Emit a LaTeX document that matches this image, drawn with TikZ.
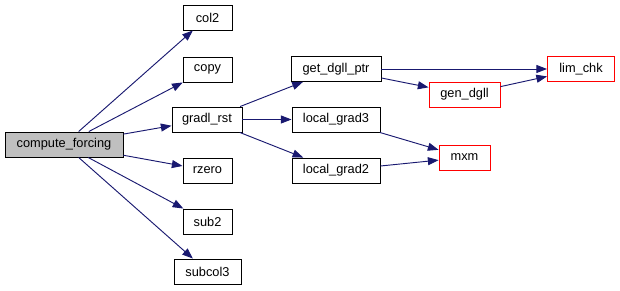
\documentclass[tikz,border=0pt]{standalone}
\usepackage{fontspec}
\setmainfont{Liberation Sans}
\usetikzlibrary{arrows.meta}
\definecolor{edgeblue}{HTML}{191970}
\definecolor{boxgray}{HTML}{BFBFBF}
\begin{document}
\begin{tikzpicture}[x=0.75pt, y=-0.75pt,
        every node/.style={font=\fontsize{9.6}{11}\selectfont},
        fn/.style={draw=black, line width=0.7pt, inner sep=0pt, minimum height=18.75pt},
        ext/.style={fn, draw=red},
        call/.style={draw=edgeblue, line width=0.7pt, -{Triangle[length=8pt, width=6pt]}}]
    \useasboundingbox (0,0) rectangle (620,291);
    % root of the graph
    \node[fn, fill=boxgray, minimum width=88.5pt] (cf) at (64,144.5) {compute\_forcing};
    % direct callees and the helpers below them
    \foreach \n/\t/\x/\y/\w in {col2/col2/207.5/17.5/49, copy/copy/207.5/69.5/49,
        gradl/gradl\_rst/207/119.5/70, rzero/rzero/207.5/170.5/49,
        sub2/sub2/207.5/221.5/49, subcol3/subcol3/207.5/271.5/67,
        getdgll/get\_dgll\_ptr/336/69/90, lgrad3/local\_grad3/336/119.5/88,
        lgrad2/local\_grad2/336/170.5/88}
        \node[fn, minimum width=\w*0.75pt] (\n) at (\x,\y) {\t};
    % routines drawn in red
    \foreach \n/\t/\x/\y/\w in {gendgll/gen\_dgll/464.5/94.5/71,
        mxm/mxm/464.5/157.5/51, limchk/lim\_chk/581/69/67}
        \node[ext, minimum width=\w*0.75pt] (\n) at (\x,\y) {\t};
    % calls
    \foreach \a/\b in {cf/col2, cf/copy, cf/gradl, cf/rzero, cf/sub2, cf/subcol3,
        gradl/getdgll, gradl/lgrad3, gradl/lgrad2, getdgll/limchk,
        getdgll/gendgll, gendgll/limchk, lgrad3/mxm, lgrad2/mxm}
        \draw[call] (\a) -- (\b);
\end{tikzpicture}
\end{document}
